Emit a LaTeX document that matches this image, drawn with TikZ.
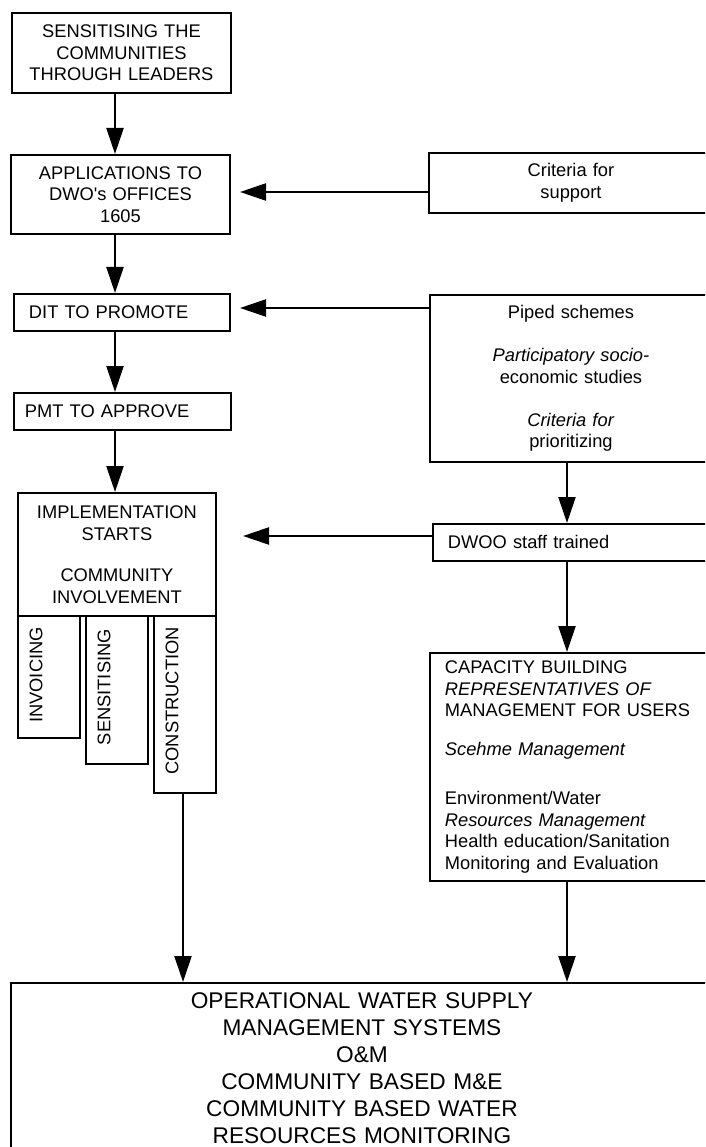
\documentclass[tikz,border=0pt]{standalone}
\usepackage{fontspec}
\setmainfont{Liberation Sans}
\usetikzlibrary{arrows.meta}
\newcommand\upfont{\fontsize{18.3}{21.5}\selectfont}
\newcommand\botfont{\fontsize{22.7}{27}\selectfont}
\begin{document}
\begin{tikzpicture}[x=1pt,y=-1pt,
  box/.style={draw, line width=1.9pt, inner sep=0pt, anchor=north west, font=\upfont},
  vtext/.style={rotate=90, anchor=east, inner sep=0pt, font=\upfont},
  arr/.style={line width=2.3pt, -{Triangle[length=26pt,width=17pt]}}]
\useasboundingbox (0,0) rectangle (705,1147);
\fill[white] (0,0) rectangle (705,1147);
\clip (0,0) rectangle (705,1147);

% left column
\node[box, text width=219pt, minimum height=80pt, align=center] (sens) at (11,12)
  {SENSITISING THE\\ COMMUNITIES\\ THROUGH LEADERS};
\node[box, text width=219pt, minimum height=79pt, align=center] (appl) at (10,154)
  {APPLICATIONS TO\\ DWO\textquotesingle s OFFICES\\ 1605};
\node[box, inner xsep=15pt, text width=186pt, minimum height=37pt, align=left] (dit) at (13,293)
  {DIT TO PROMOTE};
\node[box, inner xsep=11pt, text width=195pt, minimum height=37pt, align=left] (pmt) at (13,392)
  {PMT TO APPROVE};
\node[box, text width=198pt, minimum height=123pt, align=center] (impl) at (17,492)
  {IMPLEMENTATION\\ STARTS\\[20pt] COMMUNITY\\ INVOLVEMENT};
\node[box, minimum width=62pt, minimum height=122pt] (inv) at (17,615) {};
\node[box, minimum width=62pt, minimum height=148pt] (sen) at (85,615) {};
\node[box, minimum width=62pt, minimum height=177pt] (con) at (153,615) {};
\node[vtext] (invt) at (36,627) {INVOICING};
\node[vtext] (sent) at (104,629) {SENSITISING};
\node[vtext] (cont) at (172,627) {CONSTRUCTION};

% right column
\node[box, text width=284pt, minimum height=60pt, align=center] (crit) at (428,152)
  {Criteria for\\ support};
\node[box, text width=282pt, minimum height=167pt, align=center] (piped) at (429,294)
  {Piped schemes\\[21.5pt] \textit{Participatory socio-}\\ economic studies\\[21.5pt] \textit{Criteria for}\\ prioritizing};
\node[box, inner xsep=15pt, text width=250pt, minimum height=37pt, align=left] (dwoo) at (432,523)
  {DWOO staff trained};
\node[box, inner xsep=15pt, text width=253pt, minimum height=228pt, align=left] (cb) at (429,652)
  {CAPACITY BUILDING\\ \textit{REPRESENTATIVES OF}\\ MANAGEMENT FOR USERS\\[17.5pt]
   \textit{Scehme Management}\\[27.5pt]
   Environment/Water\\ \textit{Resources Management}\\ Health education/Sanitation\\ Monitoring and Evaluation};

% bottom
\node[box, font=\botfont, text width=702pt, minimum height=171pt, align=center] (out) at (10,982)
  {OPERATIONAL WATER SUPPLY\\ MANAGEMENT SYSTEMS\\ O\&M\\ COMMUNITY BASED M\&E\\ COMMUNITY BASED WATER\\ RESOURCES MONITORING};

% connectors
\coordinate (xl) at (115,0);
\coordinate (xr) at (567,0);
\coordinate (xc) at (183,0);
\coordinate (t1) at (240,192);
\coordinate (t2) at (240,308);
\coordinate (t3) at (243,536);
\draw[arr] (sens.south -| xl) -- (appl.north -| xl);
\draw[arr] (appl.south -| xl) -- (dit.north -| xl);
\draw[arr] (dit.south -| xl) -- (pmt.north -| xl);
\draw[arr] (pmt.south -| xl) -- (impl.north -| xl);
\draw[arr] (crit.west |- t1) -- (t1);
\draw[arr] (piped.west |- t2) -- (t2);
\draw[arr] (dwoo.west |- t3) -- (t3);
\draw[arr] (piped.south -| xr) -- (dwoo.north -| xr);
\draw[arr] (dwoo.south -| xr) -- (cb.north -| xr);
\draw[arr] (cb.south -| xr) -- (out.north -| xr);
\draw[arr] (con.south -| xc) -- (out.north -| xc);
\end{tikzpicture}
\end{document}
